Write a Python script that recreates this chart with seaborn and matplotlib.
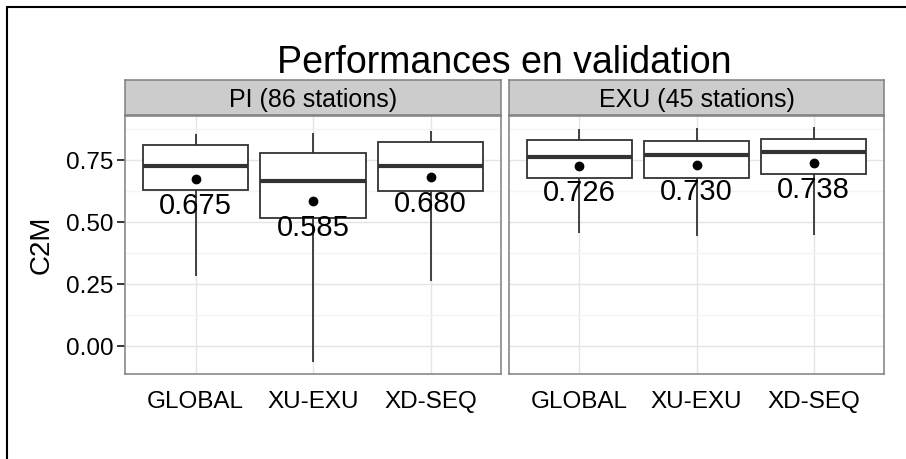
import numpy as np
import pandas as pd
import matplotlib
matplotlib.use("Agg")
import matplotlib.pyplot as plt
from matplotlib.lines import Line2D
import seaborn as sns

# ---- data -------------------------------------------------------------
methods = ["GLOBAL", "XU-EXU", "XD-SEQ"]
panels = ["PI (86 stations)", "EXU (45 stations)"]

# five-number summaries per method: whisker low, Q1, median, Q3, whisker high
pi_low = [0.284, -0.063, 0.262]
pi_q1 = [0.629, 0.517, 0.625]
pi_med = [0.726, 0.665, 0.726]
pi_q3 = [0.812, 0.777, 0.821]
pi_high = [0.855, 0.857, 0.868]
pi_mean = [0.675, 0.585, 0.680]

exu_low = [0.458, 0.445, 0.450]
exu_q1 = [0.676, 0.676, 0.692]
exu_med = [0.762, 0.770, 0.782]
exu_q3 = [0.831, 0.825, 0.833]
exu_high = [0.874, 0.878, 0.882]
exu_mean = [0.726, 0.730, 0.738]

summaries = {
    panels[0]: (pi_low, pi_q1, pi_med, pi_q3, pi_high, pi_mean),
    panels[1]: (exu_low, exu_q1, exu_med, exu_q3, exu_high, exu_mean),
}

# long table: each box is described by its five summary values; with
# whis=(0, 100) the quartiles and whisker ends land exactly on them
rows, mean_rows = [], []
for panel, (lo, q1, med, q3, hi, mean) in summaries.items():
    for i, m in enumerate(methods):
        for v in (lo[i], q1[i], med[i], q3[i], hi[i]):
            rows.append({"panel": panel, "method": m, "C2M": v})
        mean_rows.append({"panel": panel, "method": m, "mean": mean[i]})
df = pd.DataFrame(rows)
df_mean = pd.DataFrame(mean_rows)

# ---- style ------------------------------------------------------------
sns.set_theme(style="whitegrid")
plt.rcParams["font.family"] = ["Liberation Sans", "DejaVu Sans"]

W, H = 906, 459
fig = plt.figure(figsize=(W / 100, H / 100), dpi=100)


def frac(x0, y0, x1, y1):
    return [x0 / W, 1 - y1 / H, (x1 - x0) / W, (y1 - y0) / H]


ax_box = [(125, 116, 501, 374), (509, 116, 884, 374)]
strip_box = [(125, 80, 501, 115), (509, 80, 884, 115)]

BORDER = "#7F7F7F"
LINE = "#333333"

for k, panel in enumerate(panels):
    ax = fig.add_axes(frac(*ax_box[k]))
    sub = df[df["panel"] == panel]
    sub_mean = df_mean[df_mean["panel"] == panel]

    sns.boxplot(data=sub, x="method", y="C2M", order=methods, ax=ax,
                width=0.9, whis=(0, 100), color="white", linecolor=LINE,
                linewidth=1.3, showcaps=False, fliersize=0,
                medianprops=dict(linewidth=3.0, color=LINE))
    sns.pointplot(data=sub_mean, x="method", y="mean", order=methods, ax=ax,
                  errorbar=None, color="black", markers="o",
                  linestyles="none", markersize=5)
    for c in ax.collections + ax.lines[-1:]:
        c.set_zorder(5)

    for i, m in enumerate(methods):
        v = sub_mean.loc[sub_mean["method"] == m, "mean"].iloc[0]
        ax.text(i, v - 0.108, f"{v:.3f}", ha="center", va="center",
                fontsize=21, color="black", zorder=6)

    ax.set_xlim(-0.6, 2.6)
    ax.set_ylim(-0.1106, 0.927)
    ax.set_yticks([0.0, 0.25, 0.5, 0.75])
    ax.set_yticklabels(["0.00", "0.25", "0.50", "0.75"])
    ax.set_yticks([0.125, 0.375, 0.625, 0.875], minor=True)
    ax.set_axisbelow(True)
    ax.grid(True, which="major", color="#E5E5E5", linewidth=1.0)
    ax.grid(True, which="minor", axis="y", color="#F4F4F4", linewidth=1.0)
    ax.set_xlabel("")
    for s in ax.spines.values():
        s.set_visible(True)
        s.set_color(BORDER)
        s.set_linewidth(1.1)
    ax.tick_params(axis="both", which="major", direction="out", length=5.5,
                   width=1.1, color="black", labelsize=17.5,
                   labelcolor="black", pad=3)
    ax.tick_params(axis="x", which="major", pad=7)
    ax.tick_params(axis="y", which="minor", length=0)
    if k == 0:
        ax.tick_params(axis="y", left=True)
        ax.set_ylabel("C2M", fontsize=20, labelpad=8, color="black")
    else:
        ax.tick_params(axis="y", left=False, labelleft=False)
        ax.set_ylabel("")

    # facet strip
    sax = fig.add_axes(frac(*strip_box[k]))
    sax.set_facecolor("#CCCCCC")
    sax.set_xticks([])
    sax.set_yticks([])
    sax.grid(False)
    for s in sax.spines.values():
        s.set_visible(True)
        s.set_color(BORDER)
        s.set_linewidth(1.1)
    sax.text(0.5, 0.42, panel, ha="center", va="center", fontsize=18,
             color="black", transform=sax.transAxes)

fig.text(504.5 / W, 1 - 73 / H, "Performances en validation",
         ha="center", va="baseline", fontsize=27, color="black")

# outer frame lines (top and left)
fig.add_artist(Line2D([7 / W, 7 / W], [0, 1 - 7 / H], transform=fig.transFigure,
                      color="black", linewidth=1.5))
fig.add_artist(Line2D([7 / W, 1], [1 - 7 / H, 1 - 7 / H],
                      transform=fig.transFigure, color="black", linewidth=1.5))

fig.savefig("out.png", dpi=100)
